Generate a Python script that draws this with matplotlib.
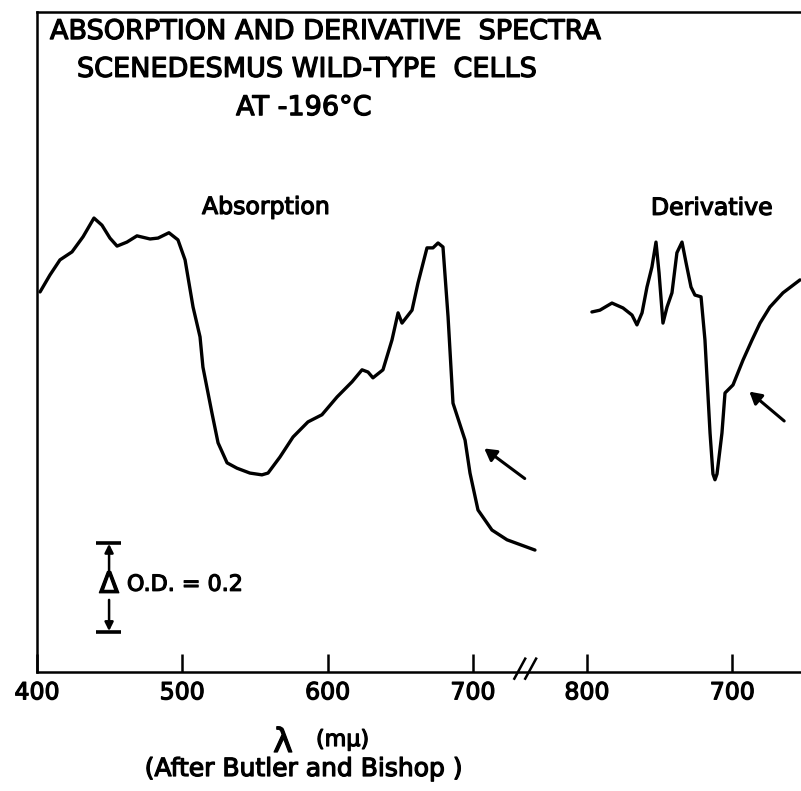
import numpy as np
import matplotlib
matplotlib.use('Agg')
import matplotlib.pyplot as plt
import matplotlib.patheffects as pe

# absorption spectrum (wavelength in m-mu, optical density)
abs_nm = [402.1, 408.9, 415.8, 424.1, 431.7, 439.2, 444.7, 450.2, 455.1, 461.9,
          468.8, 477.8, 483.3, 490.8, 497.0, 501.9, 507.4, 512.2, 514.2, 520.4,
          524.6, 530.8, 537.6, 546.5, 554.8, 559.0, 567.2, 576.2, 586.5, 596.1,
          606.5, 616.8, 623.7, 627.8, 631.2, 638.1, 644.3, 648.5, 651.2, 658.1,
          662.2, 668.4, 672.5, 676.0, 679.4, 682.9, 686.3, 694.6, 698.0, 703.5,
          713.1, 723.5, 742.7]
abs_od = [0.854, 0.892, 0.926, 0.944, 0.978, 1.020, 1.004, 0.975, 0.957, 0.966,
          0.980, 0.973, 0.975, 0.987, 0.971, 0.926, 0.820, 0.753, 0.685, 0.582,
          0.515, 0.470, 0.458, 0.447, 0.443, 0.447, 0.483, 0.528, 0.562, 0.578,
          0.618, 0.652, 0.679, 0.674, 0.661, 0.679, 0.746, 0.807, 0.784, 0.813,
          0.874, 0.953, 0.953, 0.964, 0.955, 0.798, 0.604, 0.521, 0.447, 0.364,
          0.319, 0.297, 0.274]

# derivative spectrum
der_nm = [603.4, 608.9, 617.2, 624.8, 631.0, 634.4, 637.9, 641.3, 644.7, 647.5,
          649.6, 652.3, 655.1, 658.5, 661.9, 665.4, 668.1, 671.6, 674.3, 678.5,
          681.2, 684.7, 686.7, 688.1, 689.5, 692.9, 695.0, 700.5, 707.4, 713.6,
          719.1, 725.9, 734.9, 746.6]
der_val = [0.809, 0.813, 0.829, 0.818, 0.802, 0.780, 0.807, 0.865, 0.910, 0.966,
           0.897, 0.784, 0.820, 0.852, 0.942, 0.966, 0.921, 0.865, 0.847, 0.843,
           0.746, 0.537, 0.445, 0.432, 0.445, 0.537, 0.627, 0.645, 0.701, 0.746,
           0.784, 0.820, 0.852, 0.881]

# the derivative panel sits to the right of the break
DERIV_SHIFT = 178.5

abs_ticks = [400, 500, 600, 700]
abs_ticklabels = ['400', '500', '600', '700']
der_ticks = [600, 700]
der_ticklabels = ['800', '700']

title_lines = ['ABSORPTION AND DERIVATIVE  SPECTRA',
               'SCENEDESMUS WILD-TYPE  CELLS',
               'AT -196°C']

bold = [pe.withStroke(linewidth=0.9, foreground='black')]

fig = plt.figure(figsize=(8.01, 7.91), dpi=100)
ax = fig.add_axes([37 / 801, 119 / 791, 764 / 801, 660 / 791])

ax.plot(abs_nm, abs_od, color='black', lw=2.4, solid_joinstyle='round', solid_capstyle='round')
ax.plot(np.array(der_nm) + DERIV_SHIFT, der_val, color='black', lw=2.4,
        solid_joinstyle='round', solid_capstyle='round')

ax.set_xlim(400, 925.8)
ax.set_ylim(0, 1.483)

ax.spines['right'].set_visible(False)
for s in ['left', 'bottom', 'top']:
    ax.spines[s].set_linewidth(1.8)

ticks = abs_ticks + [t + DERIV_SHIFT for t in der_ticks]
ax.set_xticks(ticks)
ax.set_xticklabels(abs_ticklabels + der_ticklabels)
ax.set_yticks([])
ax.tick_params(axis='x', direction='in', length=13, width=1.8, pad=6, labelsize=17)
for lab in ax.get_xticklabels():
    lab.set_path_effects(bold)

# axis break
for x0 in [728.5, 736.0]:
    ax.plot([x0, x0 + 7.5], [-0.015, 0.03], color='black', lw=1.8, clip_on=False)

# titles
ys = [1.438, 1.353, 1.267]
xs = [408.9, 427.5, 537.0]
for txt, x, y in zip(title_lines, xs, ys):
    ax.text(x, y, txt, fontsize=19.5, va='center', ha='left', path_effects=bold)

ax.text(557.6, 1.045, 'Absorption', fontsize=17, ha='center', va='center', path_effects=bold)
ax.text(864.5, 1.043, 'Derivative', fontsize=17, ha='center', va='center', path_effects=bold)

# arrows pointing at the shoulders
arrow = dict(arrowstyle='-|>,head_length=0.7,head_width=0.4', color='black', lw=2.2)
ax.annotate('', xy=(706.3, 0.506), xytext=(737.2, 0.431), arrowprops=arrow)
ax.annotate('', xy=(710.3 + DERIV_SHIFT, 0.634), xytext=(737.2 + DERIV_SHIFT, 0.560),
            arrowprops=arrow)

# delta O.D. scale bar
bx = 449.6
for yb in [0.290, 0.090]:
    ax.plot([440.6, 457.8], [yb, yb], color='black', lw=2.6, solid_capstyle='butt')
small = dict(arrowstyle='-|>,head_length=0.5,head_width=0.25', color='black', lw=1.8,
             shrinkA=0, shrinkB=0)
ax.annotate('', xy=(bx, 0.288), xytext=(bx, 0.225), arrowprops=small)
ax.annotate('', xy=(bx, 0.092), xytext=(bx, 0.162), arrowprops=small)
ax.text(bx, 0.196, 'Δ', fontsize=21, ha='center', va='center', path_effects=bold)
ax.text(461.9, 0.196, 'O.D. = 0.2', fontsize=16, ha='left', va='center', path_effects=bold)

# axis label and source
fig.text(283 / 801, 1 - 752 / 791, 'λ', fontsize=24, ha='center', va='baseline',
         path_effects=bold)
fig.text(316 / 801, 1 - 746 / 791, '(mμ)', fontsize=16, ha='left', va='baseline',
         path_effects=bold)
fig.text(304 / 801, 1 - 769 / 791, '(After Butler and Bishop )', fontsize=18,
         ha='center', va='center', path_effects=bold)

fig.savefig('out.png', dpi=100)
